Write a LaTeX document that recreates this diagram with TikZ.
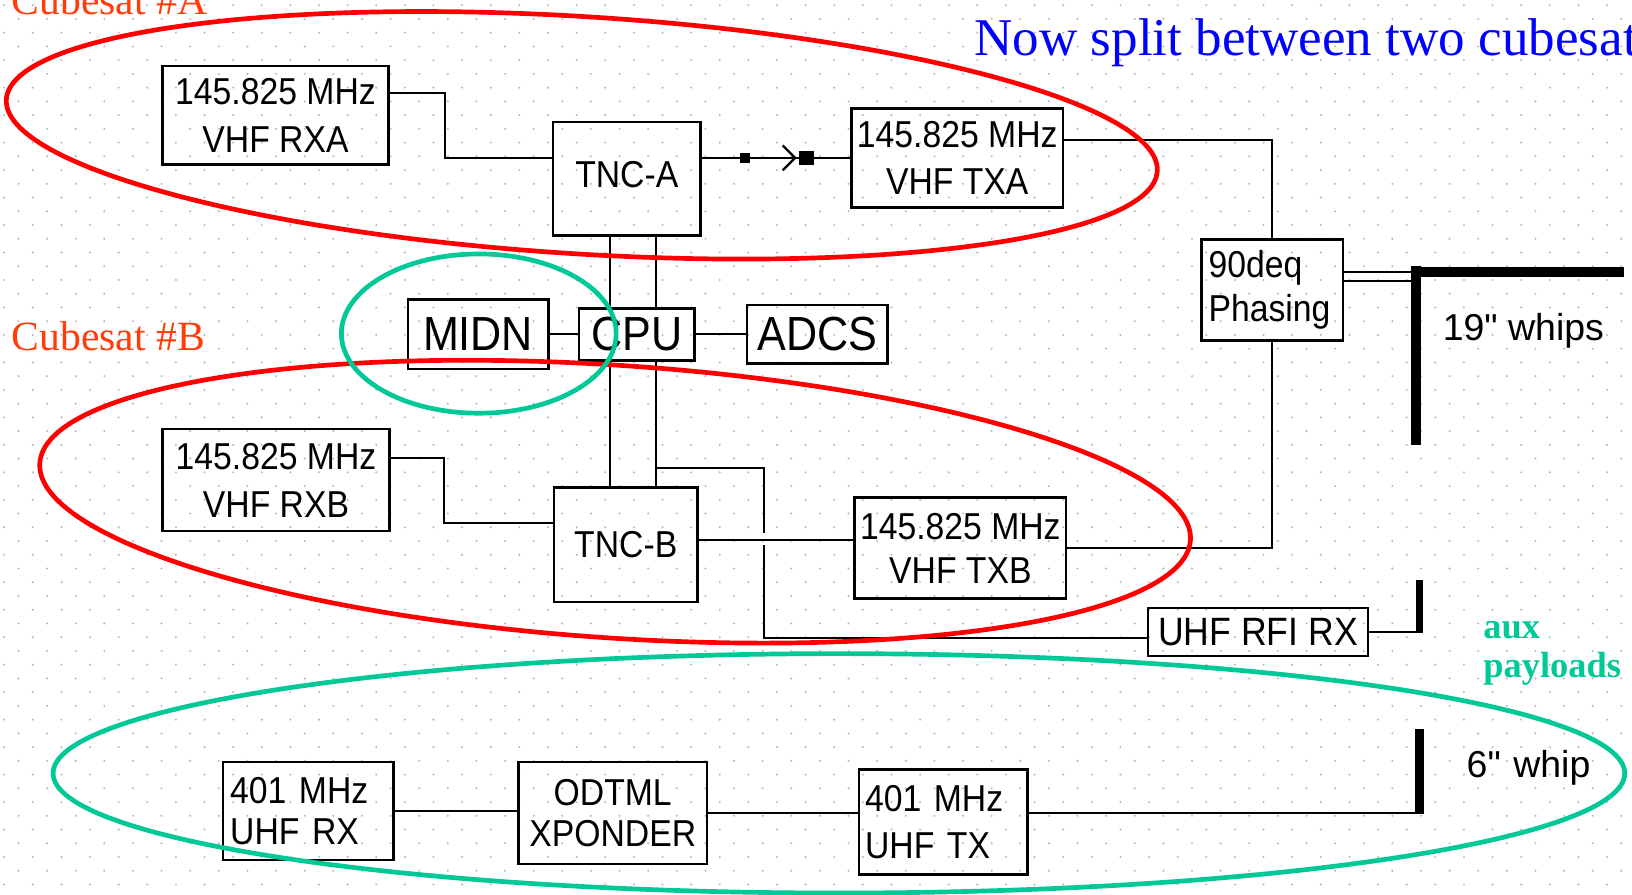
\documentclass[tikz,border=0pt]{standalone}
\usepackage{fontspec}
\setmainfont{Liberation Serif}
\newfontfamily\pixfont[FakeStretch=0.9]{Liberation Sans}
\newfontfamily\tagfont{Liberation Sans}
\usetikzlibrary{positioning, calc}
\definecolor{satred}{RGB}{255, 0, 0}
\definecolor{tagred}{RGB}{255, 60, 10}
\definecolor{auxgreen}{RGB}{0, 200, 150}
\definecolor{noteblue}{RGB}{0, 0, 255}
\definecolor{sheetdot}{RGB}{185, 185, 185}
\tikzset{
    unit/.style={draw, line width=2.4pt, inner sep=0pt, anchor=north west, align=center, font=\pixfont\fontsize{36}{46}\selectfont},
    bigunit/.style={draw, line width=2.4pt, inner sep=0pt, font=\pixfont\fontsize{46}{50}\selectfont},
    wire/.style={draw, line width=2.1pt},
    whip/.style={draw, line width=8.5pt},
    group/.style={draw, line width=4.5pt},
    tag/.style={inner sep=0pt, anchor=base west}
}
\begin{document}
\begin{tikzpicture}[x=1pt, y=-1pt]
    \clip (0,0) rectangle (1568,859);
    \fill[white] (0,0) rectangle (1568,859);
    % dotted drawing sheet
    \foreach \row in {0,...,65} {
        \pgfmathsetmacro{\dotoff}{mod(\row,2)*13.75}
        \foreach \col in {0,...,57}
            \fill[sheetdot] (\col*27.5+\dotoff+4, \row*13.2+5) circle[radius=1.1pt];
    }

    % cubesat A
    \node[unit, minimum width=217pt, minimum height=95pt] (rxa) at (155,62) {145.825 MHz\\VHF RXA};
    \node[unit, minimum width=142pt, minimum height=109pt] (tnca) at (530,116) {\raisebox{8pt}{TNC-A}};
    \node[unit, minimum width=203pt, minimum height=95pt] (txa) at (817,103) {145.825 MHz\\VHF TXA};
    % shared core
    \node[bigunit, minimum width=111pt, minimum height=50pt, anchor=north west] (cpu) at (555,295) {CPU};
    \node[bigunit, minimum width=135pt, minimum height=67pt, left=27pt of cpu] (midn) {MIDN};
    \node[bigunit, minimum width=135pt, minimum height=56pt, right=48pt of cpu] (adcs) {ADCS};
    \node[unit, minimum height=97pt, text width=122pt, inner xsep=7pt, align=left, font=\pixfont\fontsize{36}{42}\selectfont] (phase) at (1153,229) {90deq\\Phasing};
    % cubesat B
    \node[unit, minimum width=218pt, minimum height=98pt] (rxb) at (155,411) {145.825 MHz\\VHF RXB};
    \node[unit, minimum width=138pt, minimum height=110pt] (tncb) at (531,467) {\raisebox{-5pt}{TNC-B}};
    \node[unit, minimum width=203pt, minimum height=97pt, font=\pixfont\fontsize{36}{42}\selectfont] (txb) at (820,477) {145.825 MHz\\VHF TXB};
    \node[unit, minimum width=211pt, minimum height=46pt, font=\pixfont\fontsize{38}{40}\selectfont] (rfi) at (1102,583) {UHF RFI RX};
    % aux payloads
    \node[unit, minimum height=94pt, text width=150pt, inner xsep=7pt, align=left, font=\pixfont\fontsize{36}{40}\selectfont] (uhfrx) at (213,731) {401 MHz\\UHF RX};
    \node[unit, minimum width=181pt, minimum height=98pt, font=\pixfont\fontsize{36}{40}\selectfont] (odtml) at (497,731) {ODTML\\XPONDER};
    \node[unit, minimum height=101pt, text width=150pt, inner xsep=6pt, align=left, font=\pixfont\fontsize{36}{45}\selectfont] (uhftx) at (824,738) {401 MHz\\UHF TX};

    \coordinate (busL) at (586,0);
    \coordinate (busR) at (630,0);
    \coordinate (fork) at (630,450);
    \coordinate (hopT) at (734,512);
    \coordinate (hopB) at (734,524);
    \coordinate (tapB) at ([yshift=4pt]tncb.east);
    \coordinate (feedA) at ([yshift=17pt]phase.east);
    \coordinate (feedB) at ([yshift=8.5pt]phase.east);
    \coordinate (mast19) at (1356,261);
    \coordinate (tip19) at (1560,261);
    \coordinate (top19) at (1360.5,256);
    \coordinate (foot19) at (1360.5,428);
    \coordinate (mastRfi) at (1364,557);
    \coordinate (mast6) at (1364,700);

    % links
    \draw[wire] ([yshift=21pt]rxa.east) -- ++(53,0) |- ([yshift=20pt]tnca.west);
    \draw[wire] (txa.west -| tnca.east) -- coordinate[pos=0.29] (sqA) coordinate[pos=0.628] (tipA) coordinate[pos=0.703] (sqB) (txa.west);
    \node[fill, minimum size=10pt, inner sep=0pt] (dotA) at (sqA) {};
    \node[fill, minimum size=14pt, inner sep=0pt] (dotB) at (sqB) {};
    \draw[wire] ([shift={(-12,-12)}]tipA) -- (tipA) -- ([shift={(-12,12)}]tipA);
    \draw[wire] ([yshift=17.5pt]txa.east) -| (phase.north);
    \foreach \bus in {busL, busR} {
        \draw[wire] (\bus |- tnca.south) -- (\bus |- cpu.north);
        \draw[wire] (\bus |- cpu.south) -- (\bus |- tncb.north);
    }
    \draw[wire] (midn) -- (cpu);
    \draw[wire] (cpu) -- (adcs);
    \draw[wire] ([yshift=21pt]rxb.east) -- ++(51,0) |- ([yshift=21pt]tncb.west);
    \draw[wire] (tapB) -- (tapB -| txb.west);
    \draw[wire] (txb.east) -| (phase.south);
    \draw[wire] (fork) -| (hopT);
    \draw[wire] (hopB) |- ([yshift=-6pt]rfi.west);
    \draw[wire] (uhfrx.east) -- (uhfrx.east -| odtml.west);
    \draw[wire] (odtml.east) -- (odtml.east -| uhftx.west);
    \draw[wire] (odtml.east -| uhftx.east) -- (odtml.east -| mast6);
    \draw[wire] (rfi.east) -- (rfi.east -| mastRfi);
    \draw[wire] (feedA) -- (feedA -| mast19);
    \draw[wire] (feedB) -- (feedB -| mast19);

    % antennas
    \draw[whip, line width=9.5pt] (mast19) -- (tip19);
    \draw[whip, line width=9pt] (top19) -- (foot19);
    \draw[whip, line width=7pt] (rfi.east -| mastRfi) ++(0,1) -- (mastRfi);
    \draw[whip] (odtml.east -| mast6) ++(0,1) -- (mast6);

    % groupings
    \draw[group, satred, rotate around={-3.57:(559,130)}] (559,130) ellipse [x radius=554pt, y radius=114pt];
    \draw[group, satred, rotate around={-3.83:(591,482)}] (591,482) ellipse [x radius=554pt, y radius=131pt];
    \draw[group, auxgreen] (460,320.5) ellipse [x radius=132pt, y radius=76.5pt];
    \draw[group, auxgreen] (806,743) ellipse [x radius=755pt, y radius=115pt];

    % labels
    \node[tag, text=tagred, font=\fontsize{40}{40}\selectfont] (tagA) at (11,14) {Cubesat \#A};
    \node[tag, text=tagred, font=\fontsize{40}{40}\selectfont] (tagB) at (11,337) {Cubesat \#B};
    \node[tag, text=noteblue, font=\fontsize{51}{51}\selectfont] (title) at (936,53) {Now split between two cubesat};
    \node[tag, text=auxgreen, font=\bfseries\fontsize{35}{36}\selectfont] (auxA) at (1425,613) {aux};
    \node[tag, text=auxgreen, font=\bfseries\fontsize{35}{36}\selectfont] (auxB) at (1425,651) {payloads};
    \node[tag, font=\tagfont\fontsize{36}{36}\selectfont] (lab19) at (1386,327) {19" whips};
    \node[tag, font=\tagfont\fontsize{36}{36}\selectfont] (lab6) at (1409,747) {6"\hspace{12pt}whip};
\end{tikzpicture}
\end{document}
